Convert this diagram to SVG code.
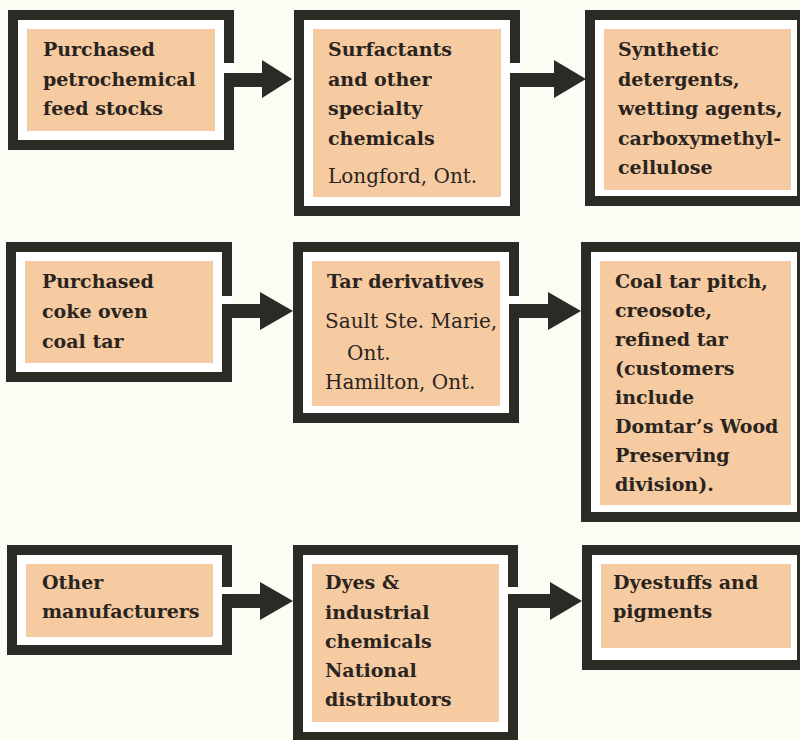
<svg xmlns="http://www.w3.org/2000/svg" width="800" height="740" viewBox="0 0 800 740">
  <style>
    .bg { fill: #fcfbf4; }
    .frame { fill: #ffffff; stroke: #2b2a24; stroke-width: 10; }
    .peach { fill: #f6cba1; }
    .gap { fill: #ffffff; }
    .b { font-family: "DejaVu Serif", "Liberation Serif", serif; font-weight: bold; font-size: 19px; fill: #2a2420; }
    .r { font-family: "DejaVu Serif", "Liberation Serif", serif; font-weight: normal; font-size: 20px; fill: #2a2420; }
    .arr { fill: #2b2a24; }
  </style>
  <rect class="bg" x="0" y="0" width="800" height="740"/>

  <g id="petro-feed">
    <rect class="frame" x="13" y="15" width="216" height="130"/>
    <rect class="gap" x="224" y="63" width="11" height="10"/>
    <rect class="peach" x="27" y="29" width="188" height="102"/>
    <text class="b" x="43" y="56">Purchased</text>
    <text class="b" x="43" y="86">petrochemical</text>
    <text class="b" x="43" y="115">feed stocks</text>
  </g>

  <g id="surfactants">
    <rect class="frame" x="299" y="15" width="216" height="196"/>
    <rect class="gap" x="510" y="63" width="11" height="10"/>
    <rect class="peach" x="313" y="29" width="188" height="168"/>
    <text class="b" x="328" y="56">Surfactants</text>
    <text class="b" x="328" y="86">and other</text>
    <text class="b" x="328" y="115">specialty</text>
    <text class="b" x="328" y="145">chemicals</text>
    <text class="r" x="328" y="183">Longford, Ont.</text>
  </g>

  <g id="detergents">
    <rect class="frame" x="590" y="15" width="212" height="186"/>
    <rect class="peach" x="604" y="29" width="187" height="161"/>
    <text class="b" x="618" y="56">Synthetic</text>
    <text class="b" x="618" y="86">detergents,</text>
    <text class="b" x="618" y="115">wetting agents,</text>
    <text class="b" x="618" y="145">carboxymethyl-</text>
    <text class="b" x="618" y="174">cellulose</text>
  </g>

  <g id="coal-tar">
    <rect class="frame" x="11" y="247" width="216" height="130"/>
    <rect class="gap" x="222" y="296" width="11" height="8"/>
    <rect class="peach" x="25" y="261" width="188" height="102"/>
    <text class="b" x="42" y="288">Purchased</text>
    <text class="b" x="42" y="318">coke oven</text>
    <text class="b" x="42" y="348">coal tar</text>
  </g>

  <g id="tar-derivatives">
    <rect class="frame" x="298" y="247" width="216" height="171"/>
    <rect class="gap" x="509" y="296" width="11" height="8"/>
    <rect class="peach" x="312" y="261" width="188" height="145"/>
    <text class="b" x="327" y="288">Tar derivatives</text>
    <text class="r" x="325" y="328">Sault Ste. Marie,</text>
    <text class="r" x="347" y="360">Ont.</text>
    <text class="r" x="325" y="389">Hamilton, Ont.</text>
  </g>

  <g id="pitch-creosote">
    <rect class="frame" x="586" y="247" width="216" height="270"/>
    <rect class="peach" x="600" y="261" width="191" height="244"/>
    <text class="b" x="615" y="288">Coal tar pitch,</text>
    <text class="b" x="615" y="317">creosote,</text>
    <text class="b" x="615" y="346">refined tar</text>
    <text class="b" x="615" y="375">(customers</text>
    <text class="b" x="615" y="404">include</text>
    <text class="b" x="615" y="433">Domtar’s Wood</text>
    <text class="b" x="615" y="462">Preserving</text>
    <text class="b" x="615" y="491">division).</text>
  </g>

  <g id="other-manufacturers">
    <rect class="frame" x="12" y="550" width="215" height="100"/>
    <rect class="gap" x="222" y="587" width="11" height="7"/>
    <rect class="peach" x="26" y="564" width="187" height="73"/>
    <text class="b" x="42" y="589">Other</text>
    <text class="b" x="42" y="618">manufacturers</text>
  </g>

  <g id="dyes">
    <rect class="frame" x="298" y="550" width="215" height="187"/>
    <rect class="gap" x="508" y="587" width="11" height="7"/>
    <rect class="peach" x="312" y="564" width="187" height="158"/>
    <text class="b" x="325" y="589">Dyes &amp;</text>
    <text class="b" x="325" y="619">industrial</text>
    <text class="b" x="325" y="648">chemicals</text>
    <text class="b" x="325" y="677">National</text>
    <text class="b" x="325" y="706">distributors</text>
  </g>

  <g id="dyestuffs">
    <rect class="frame" x="587" y="550" width="215" height="115"/>
    <rect class="peach" x="601" y="564" width="190" height="84"/>
    <text class="b" x="613" y="589">Dyestuffs and</text>
    <text class="b" x="613" y="618">pigments</text>
  </g>

  <g id="connectors">
    <rect class="arr" x="224" y="73" width="39" height="14"/>
    <polygon class="arr" points="262,60 292,79 262,98"/>
    <rect class="arr" x="510" y="73" width="45" height="14"/>
    <polygon class="arr" points="554,60 586,79 554,98"/>

    <rect class="arr" x="222" y="304" width="39" height="14"/>
    <polygon class="arr" points="260,292 293,311 260,330"/>
    <rect class="arr" x="509" y="304" width="40" height="14"/>
    <polygon class="arr" points="548,292 581,311 548,330"/>

    <rect class="arr" x="222" y="594" width="39" height="14"/>
    <polygon class="arr" points="260,582 293,601 260,620"/>
    <rect class="arr" x="508" y="594" width="43" height="14"/>
    <polygon class="arr" points="550,582 582,601 550,620"/>
  </g>
</svg>
